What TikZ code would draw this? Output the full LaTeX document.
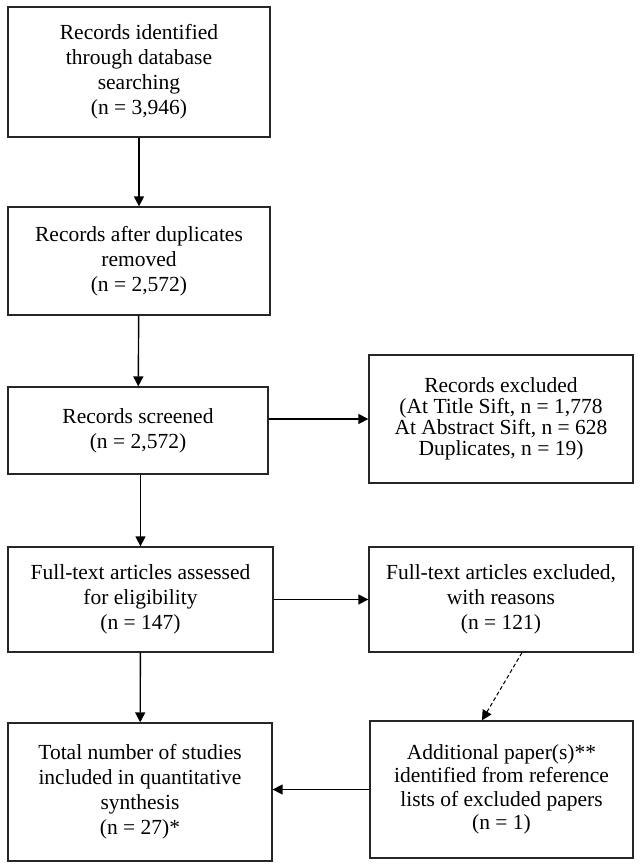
\documentclass[tikz,border=0pt]{standalone}
\usepackage{fontspec}
\setmainfont{Liberation Serif}
\usetikzlibrary{arrows.meta}
\begin{document}
\begin{tikzpicture}[x=1pt,y=-1pt,
  box/.style={draw=black!85, line width=1.3pt, align=center, inner sep=0pt,
    font=\fontsize{21.5}{25}\selectfont},
  arr/.style={line width=1.4pt, -{Triangle[length=10pt,width=10pt]}},
  darr/.style={line width=1pt, dash pattern=on 4pt off 2.5pt, -{Triangle[length=10pt,width=10pt]}}]
\useasboundingbox (0,0) rectangle (641,868);
\node[box, minimum width=262pt, minimum height=130pt] (b1) at (139,72)
  {Records identified\\through database\\searching\\(n = 3,946)};
\node[box, minimum width=262pt, minimum height=108pt] (b2) at (139,261)
  {Records after duplicates\\removed\\(n = 2,572)};
\node[box, minimum width=260pt, minimum height=87pt] (b3) at (138,430.5)
  {Records screened\\(n = 2,572)};
\node[box, minimum width=265pt, minimum height=105pt] (b4) at (140.5,599.5)
  {Full-text articles assessed\\for eligibility\\(n = 147)};
\node[box, minimum width=264pt, minimum height=138pt] (b5) at (140,792)
  {Total number of studies\\included in quantitative\\synthesis\\(n = 27)*};
\node[box, minimum width=264pt, minimum height=128pt, font=\fontsize{21.5}{21}\selectfont] (r1) at (501,419)
  {Records excluded\\(At Title Sift, n = 1,778\\At Abstract Sift, n = 628\\Duplicates, n = 19)};
\node[box, minimum width=264pt, minimum height=105pt] (r2) at (501,599.5)
  {Full-text articles excluded,\\with reasons\\(n = 121)};
\node[box, minimum width=263pt, minimum height=137pt, font=\fontsize{21.5}{23.5}\selectfont] (r3) at (501.5,789.5)
  {Additional paper(s)**\\identified from reference\\lists of excluded papers\\(n = 1)};
\draw[arr] (b1) -- (b2);
\draw[arr] (b2) -- (b3);
\draw[arr] (b3.south -| b4) -- (b4);
\draw[arr] (b4) -- (b5);
\draw[arr] (b3.east |- r1.west) -- (r1.west);
\draw[arr] (b4) -- (r2);
\draw[arr] (r3.west) -- (r3.west -| b5.east);
\draw[darr] ([xshift=21pt]r2.south) -- ([xshift=-19.5pt]r3.north);
\end{tikzpicture}
\end{document}
